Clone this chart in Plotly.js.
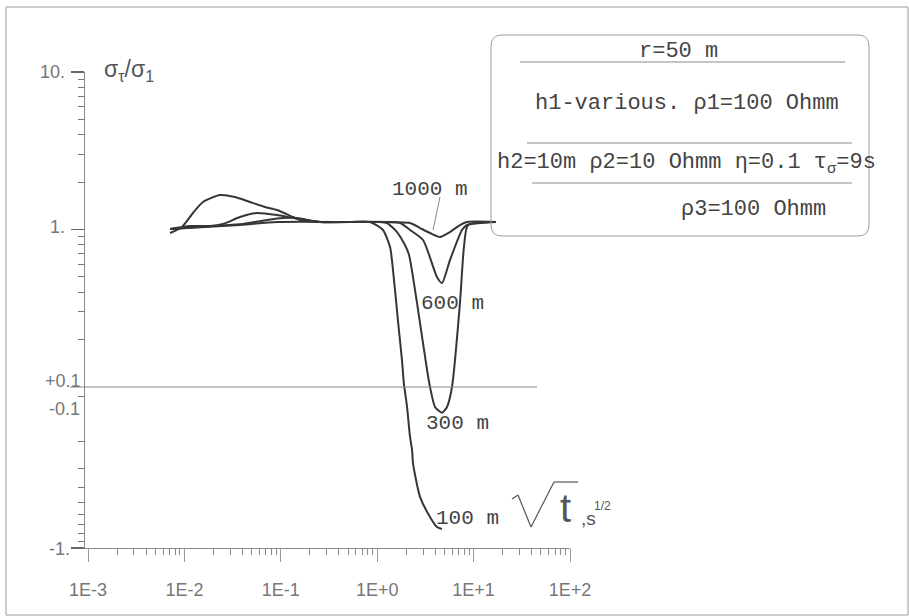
<!DOCTYPE html>
<html>
<head>
<meta charset="utf-8">
<script src="https://cdn.plot.ly/plotly-3.0.1.min.js"></script>
<style>
  html, body { margin: 0; padding: 0; background: #fff; }
  #chart { width: 909px; height: 616px; }
</style>
</head>
<body>
<div id="chart"></div>
<script>
// Apparent conductivity ratio sigma_tau/sigma_1 versus sqrt(t) for several
// first-layer thicknesses h1 (r = 50 m, three-layer IP model).

// sqrt(t), s^1/2
const t100 = [0.0071, 0.00944, 0.01227, 0.0156, 0.0234, 0.0335, 0.0479, 0.0686, 0.0914, 0.134, 0.158, 0.255, 0.522, 0.842, 1.148, 1.36, 1.459, 1.64, 1.807, 1.897, 1.94, 2.04, 2.19, 2.30, 2.35, 2.78, 3.53, 4.17, 4.70];
const s100 = [0.950, 1.037, 1.273, 1.495, 1.656, 1.608, 1.495, 1.390, 1.330, 1.200, 1.149, 1.116, 1.116, 1.116, 0.993, 0.774, 0.553, 0.266, 0.148, 0.103, 0.0, -0.118, -0.186, -0.226, -0.276, -0.461, -0.625, -0.728, -0.750];

const t300 = [0.0071, 0.01143, 0.01845, 0.0251, 0.0377, 0.0566, 0.0914, 0.134, 0.255, 0.522, 1.07, 1.264, 1.604, 1.94, 2.14, 2.59, 3.29, 3.53, 3.98, 4.70, 5.30, 5.97, 7.22, 7.94, 8.75, 17.0];
const s300 = [1.007, 1.052, 1.052, 1.084, 1.200, 1.273, 1.236, 1.183, 1.116, 1.116, 1.116, 1.100, 0.964, 0.797, 0.689, 0.341, 0.128, 0.100, -0.118, -0.129, -0.118, 0.100, 0.341, 0.774, 1.068, 1.116];

const t600 = [0.0071, 0.020, 0.0405, 0.0719, 0.1054, 0.147, 0.255, 1.724, 2.19, 2.99, 4.17, 4.70, 5.69, 7.58, 8.54, 17.0];
const s600 = [1.007, 1.052, 1.084, 1.149, 1.183, 1.183, 1.116, 1.100, 0.993, 0.858, 0.499, 0.457, 0.640, 0.993, 1.068, 1.116];

const t1000 = [0.0071, 0.0377, 0.0914, 0.522, 2.19, 2.78, 3.53, 4.48, 5.69, 7.22, 8.54, 17.0];
const s1000 = [1.007, 1.068, 1.116, 1.116, 1.100, 1.022, 0.950, 0.896, 0.964, 1.068, 1.116, 1.116];

const curveNames = ['100 m', '300 m', '600 m', '1000 m'];

// axis ticks and labels
const xDecades = [1e-3, 1e-2, 1e-1, 1, 10, 100];
const xDecadeLabels = ['1E-3', '1E-2', '1E-1', '1E+0', '1E+1', '1E+2'];
const yMajor = [10, 1, -1];
const yLabels = ['10.', '1.', '+0.1', '-0.1', '-1.'];

// Signed log scale: log10 above +0.1, mirrored log below -0.1, a narrow
// linear band in between.
const GAP = 0.057, NEG_K = 0.965;
function toAxis(v) {
  if (v >= 0.1) return Math.log10(v);
  if (v <= -0.1) return -1 - GAP - NEG_K * (Math.log10(-v) + 1);
  return -1 - GAP * (0.1 - v) / 0.2;
}

// page-pixel helpers for decorations (plot area: x 85..570, y 72..548)
const ML = 85, MR = 339, MT = 72, MB = 68, PW = 909 - ML - MR, PH = 616 - MT - MB;
const px = p => (p - ML) / PW;
const py = p => (616 - MB - p) / PH;
const X_LEFT = -3 - 3 * 5 / (PW - 3);   // y-axis line sits just left of 1E-3

const lineColor = '#363636';
const series = [[t100, s100], [t300, s300], [t600, s600], [t1000, s1000]];
const traces = series.map((d, i) => ({
  type: 'scatter', mode: 'lines', name: curveNames[i],
  x: d[0], y: d[1].map(toAxis),
  line: { color: lineColor, width: 2, shape: 'spline', smoothing: 0.6 },
  hoverinfo: 'skip'
}));

const minorX = [];
for (let e = -3; e < 2; e++) for (let k = 2; k <= 9; k++) minorX.push(k * Math.pow(10, e));
const minorY = [];
for (let k = 2; k <= 9; k++) { minorY.push(toAxis(k)); minorY.push(toAxis(k / 10)); minorY.push(toAxis(-k / 10)); }
minorY.push(toAxis(-0.1));

const mono = 'Liberation Mono, DejaVu Sans Mono, monospace';
const sans = 'Liberation Sans, DejaVu Sans, sans-serif';
const textGray = '#444';
const tickGray = '#777';

// rounded box for the model parameters
function roundRect(x0, y0, x1, y1, r) {
  const rx = r / PW, ry = r / PH;
  const X0 = px(x0), X1 = px(x1), YT = py(y0), YB = py(y1);
  return `M${X0 + rx},${YT} L${X1 - rx},${YT} Q${X1},${YT} ${X1},${YT - ry} ` +
         `L${X1},${YB + ry} Q${X1},${YB} ${X1 - rx},${YB} L${X0 + rx},${YB} ` +
         `Q${X0},${YB} ${X0},${YB + ry} L${X0},${YT - ry} Q${X0},${YT} ${X0 + rx},${YT} Z`;
}
function seg(x0, y0, x1, y1, color, w) {
  return { type: 'line', xref: 'paper', yref: 'paper', x0: px(x0), x1: px(x1), y0: py(y0), y1: py(y1),
           line: { color: color, width: w } };
}

const shapes = [
  // page frame
  { type: 'rect', xref: 'paper', yref: 'paper', x0: px(6), x1: px(908), y0: py(615), y1: py(7),
    line: { color: '#9a9a9a', width: 1 }, fillcolor: 'rgba(0,0,0,0)', layer: 'below' },
  // +0.1 reference line
  { type: 'line', xref: 'paper', yref: 'y', x0: px(70), x1: px(537), y0: toAxis(0.1), y1: toAxis(0.1),
    line: { color: '#8a8a8a', width: 1 } },
  // parameter box and its rules
  { type: 'path', xref: 'paper', yref: 'paper', path: roundRect(491, 35, 869, 236, 11),
    line: { color: '#a0a0a0', width: 1 }, fillcolor: 'rgba(255,255,255,0)' },
  seg(520, 62, 845, 62, '#8a8a8a', 1),
  seg(527, 143, 852, 143, '#8a8a8a', 1),
  seg(532, 183, 852, 183, '#8a8a8a', 1),
  // leader for the 1000 m label
  seg(440, 197, 433, 230, '#888', 1),
  // radical sign of the x-axis title
  seg(512, 499, 518, 495, '#555', 1.2),
  seg(518, 495, 531, 527, '#555', 1.2),
  seg(531, 527, 554, 482, '#555', 1.2),
  seg(554, 482, 578, 482, '#555', 1.2)
];

function ann(text, x, y, opts) {
  return Object.assign({ text: text, xref: 'paper', yref: 'paper', x: px(x), y: py(y),
    showarrow: false, xanchor: 'center', yanchor: 'middle',
    font: { family: mono, size: 21, color: textGray } }, opts || {});
}

const yLabelPos = { '10.': [67, 72], '1.': [67, 227], '+0.1': [83, 381], '-0.1': [82, 409], '-1.': [72, 549] };
const annotations = [
  // curve labels
  ann(curveNames[3], 430, 189),
  ann(curveNames[2], 452, 303),
  ann(curveNames[1], 457, 423),
  ann(curveNames[0], 467, 518),
  // model parameters
  ann('r=50 m', 678, 52, { font: { family: mono, size: 22, color: textGray } }),
  ann('h1-various. ρ1=100 Ohmm', 533, 103, { xanchor: 'left', font: { family: mono, size: 22, color: textGray } }),
  ann('h2=10m ρ2=10 Ohmm η=0.1 τ<sub>σ</sub>=9s', 495, 164, { xanchor: 'left', font: { family: mono, size: 22, color: textGray } }),
  ann('ρ3=100 Ohmm', 679, 210, { xanchor: 'left', font: { family: mono, size: 22, color: textGray } }),
  // y-axis title
  ann('σ<sub>τ</sub>/σ<sub>1</sub>', 102, 70, { xanchor: 'left', font: { family: sans, size: 23, color: '#555' } }),
  // x-axis title
  ann('t', 565, 508, { font: { family: sans, size: 40, color: '#555' } }),
  ann(',s', 588, 518, { font: { family: sans, size: 19, color: '#555' } }),
  ann('1/2', 602, 506, { font: { family: sans, size: 12, color: '#555' } })
];
yLabels.forEach(lab => {
  const p = yLabelPos[lab];
  annotations.push(ann(lab, p[0], p[1], { xanchor: 'right', font: { family: sans, size: 18, color: tickGray } }));
});

const layout = {
  width: 909, height: 616,
  margin: { l: ML, r: MR, t: MT, b: MB, pad: 0 },
  paper_bgcolor: '#ffffff', plot_bgcolor: 'rgba(0,0,0,0)',
  showlegend: false,
  xaxis: {
    type: 'log', range: [X_LEFT, 2],
    showline: true, linecolor: '#8a8a8a', linewidth: 1,
    ticks: 'outside', ticklen: 13, tickwidth: 1, tickcolor: '#999',
    tickmode: 'array', tickvals: xDecades, ticktext: xDecadeLabels,
    tickfont: { family: sans, size: 18, color: tickGray },
    ticklabelstandoff: 12,
    showgrid: false, zeroline: false,
    minor: { tickmode: 'array', tickvals: minorX, ticks: 'outside', ticklen: 6, tickwidth: 1, tickcolor: '#888', showgrid: false }
  },
  yaxis: {
    range: [toAxis(-1), toAxis(10)],
    showline: true, linecolor: '#8a8a8a', linewidth: 1,
    ticks: 'outside', ticklen: 13, tickwidth: 1.2, tickcolor: '#666',
    tickmode: 'array', tickvals: yMajor.map(toAxis), showticklabels: false,
    showgrid: false, zeroline: false,
    minor: { tickmode: 'array', tickvals: minorY, ticks: 'outside', ticklen: 6, tickwidth: 1, tickcolor: '#777', showgrid: false }
  },
  shapes: shapes,
  annotations: annotations
};

Plotly.newPlot('chart', traces, layout, { displayModeBar: false, staticPlot: true });
</script>
</body>
</html>
